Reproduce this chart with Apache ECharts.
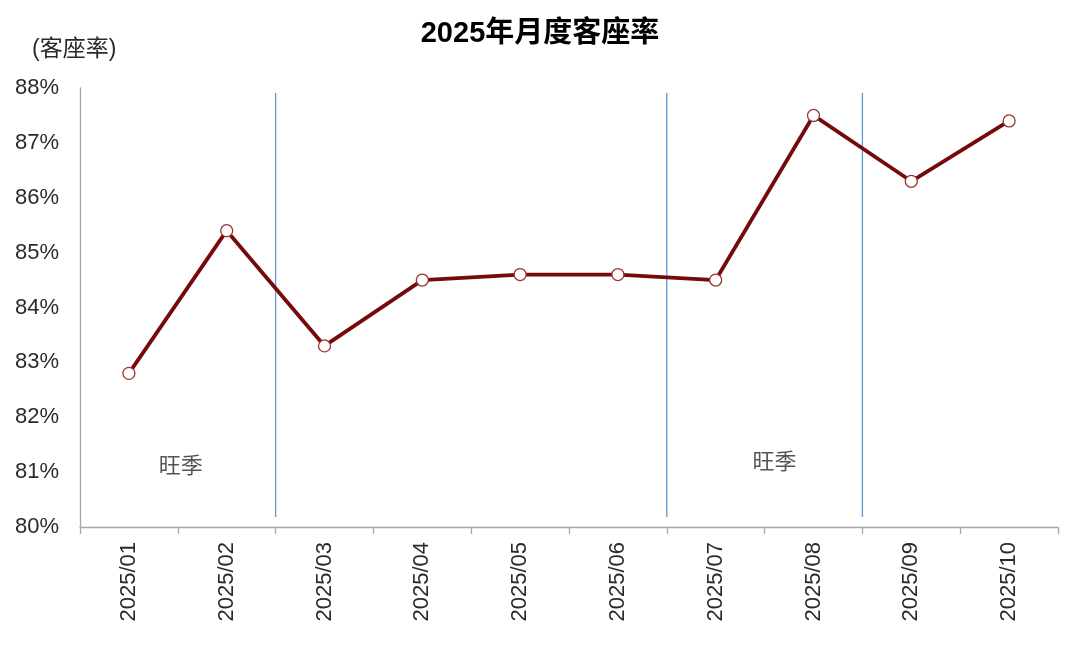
<!DOCTYPE html>
<html><head><meta charset="utf-8">
<script src="https://cdn.jsdelivr.net/npm/echarts@6/dist/echarts.min.js"></script>
<style>html,body{margin:0;padding:0;background:#fff}#c{width:1080px;height:652px}</style>
</head><body><div id="c"></div>
<script>
const categories = ['2025/01','2025/02','2025/03','2025/04','2025/05','2025/06','2025/07','2025/08','2025/09','2025/10'];
const seatRate = [82.8, 85.4, 83.3, 84.5, 84.6, 84.6, 84.5, 87.5, 86.3, 87.4];
const yTicks = { min: 80, max: 88, interval: 1 };
const seasonDividers = [2, 6, 8];          // boundaries between months (category index)
const dividerSpan = [80.18, 87.91];        // vertical extent in %
const seasonLabels = [[1.03, 81.1, '旺季'], [7.1, 81.17, '旺季']];

const font = 'Liberation Sans, Arial, "Noto Sans CJK SC", sans-serif';
const dividerSeries = seasonDividers.map(d => ({
  type: 'line', xAxisIndex: 1, yAxisIndex: 0, symbol: 'none', silent: true,
  lineStyle: { color: '#5B9BD5', width: 1.3 },
  data: [[d, dividerSpan[0]], [d, dividerSpan[1]]], z: 1
}));

const chart = echarts.init(document.getElementById('c'), null, { renderer: 'canvas' });
chart.setOption({
  animation: false,
  title: [
    { text: '2025年月度客座率', left: 'center', top: 14,
      textStyle: { fontFamily: font, fontSize: 29, fontWeight: 'bold', color: '#000' } },
    { text: '(客座率)', left: 27, top: 33,
      textStyle: { fontFamily: font, fontSize: 23, fontWeight: 'normal', color: '#2a2a2a' } }
  ],
  grid: { left: 80, right: 22, top: 88, bottom: 125 },
  xAxis: [
    { type: 'category', data: categories, boundaryGap: true,
      axisLine: { lineStyle: { color: '#A6A6A6', width: 1.3 } },
      axisTick: { show: true, length: 7, lineStyle: { color: '#A6A6A6', width: 1.3 } },
      axisLabel: { rotate: 90, margin: 15, fontFamily: font, fontSize: 22, color: '#2a2a2a' },
      splitLine: { show: false } },
    { type: 'value', min: 0, max: 10, show: false }
  ],
  yAxis: {
    type: 'value', min: yTicks.min, max: yTicks.max, interval: yTicks.interval,
    axisLine: { show: true, lineStyle: { color: '#A6A6A6', width: 1.3 } },
    axisTick: { show: false },
    splitLine: { show: false },
    axisLabel: { formatter: '{value}%', margin: 21, fontFamily: font, fontSize: 22, color: '#2a2a2a' }
  },
  series: [
    ...dividerSeries,
    { type: 'scatter', xAxisIndex: 1, symbolSize: 0, silent: true,
      data: seasonLabels.map(l => ({ value: [l[0], l[1]], name: l[2] })),
      label: { show: true, position: 'inside', formatter: p => p.name,
        fontFamily: font, fontSize: 22, color: '#2a2a2a' } },
    { type: 'line', data: seatRate, xAxisIndex: 0, z: 5,
      lineStyle: { color: '#760A0A', width: 3.8 },
      symbol: 'circle', symbolSize: 12,
      itemStyle: { color: '#fff', borderColor: '#9A3535', borderWidth: 1.3 } }
  ]
});
</script></body></html>
